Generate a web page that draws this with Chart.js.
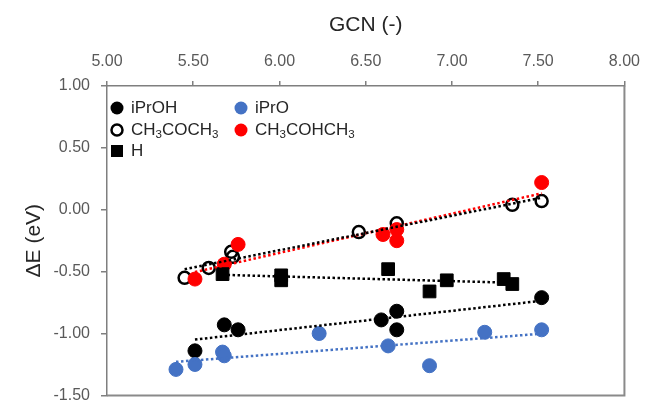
<!DOCTYPE html>
<html lang="en">
<head>
<meta charset="UTF-8" />
<title>GCN vs ΔE</title>
<style>
  html, body { margin: 0; padding: 0; background: #fff; }
  .wrap { width: 650px; height: 416px; }
</style>
</head>
<body>
<div class="wrap"><canvas class="chart"></canvas></div>
<script src="https://cdn.jsdelivr.net/npm/chart.js@4.4.0/dist/chart.umd.min.js"></script>
<script>
const seriesNames = ['iPrOH', 'iPrO', 'CH₃COCH₃', 'CH₃COHCH₃', 'H'];

const gcnIPrOH = [5.51, 5.68, 5.76, 6.59, 6.68, 6.68, 7.52];
const dEIPrOH  = [-1.14, -0.93, -0.97, -0.89, -0.82, -0.97, -0.71];

const gcnIPrO = [5.40, 5.51, 5.67, 5.68, 6.23, 6.63, 6.87, 7.19, 7.52];
const dEIPrO  = [-1.29, -1.25, -1.15, -1.18, -1.00, -1.10, -1.26, -0.99, -0.97];

const gcnAcetone = [5.45, 5.59, 5.72, 5.73, 6.46, 6.68, 7.35, 7.52];
const dEAcetone  = [-0.55, -0.47, -0.34, -0.38, -0.18, -0.11, 0.04, 0.07];

const gcnEnol = [5.51, 5.68, 5.76, 6.60, 6.68, 6.68, 7.52];
const dEEnol  = [-0.56, -0.44, -0.28, -0.20, -0.16, -0.25, 0.22];

const gcnH = [5.67, 6.01, 6.01, 6.63, 6.87, 6.97, 7.30, 7.35];
const dEH  = [-0.52, -0.53, -0.57, -0.48, -0.66, -0.57, -0.56, -0.60];

const xTicks = [5.0, 5.5, 6.0, 6.5, 7.0, 7.5, 8.0];
const yTicks = [1.0, 0.5, 0.0, -0.5, -1.0, -1.5];

const FONT = "'Liberation Sans', Arial, sans-serif";

const series = [
  { xs: gcnIPrOH, ys: dEIPrOH, color: '#000000', fill: '#000000', shape: 'circle', r: 7, bw: 1 },
  { xs: gcnIPrO, ys: dEIPrO, color: '#4472c4', fill: '#4472c4', shape: 'circle', r: 7, bw: 1 },
  { xs: gcnAcetone, ys: dEAcetone, color: '#000000', fill: 'rgba(0,0,0,0)', shape: 'circle', r: 6, bw: 2.5 },
  { xs: gcnEnol, ys: dEEnol, color: '#ff0000', fill: '#ff0000', shape: 'circle', r: 7, bw: 1 },
  { xs: gcnH, ys: dEH, color: '#000000', fill: '#000000', shape: 'rect', r: 9, bw: 1 },
];

function toPoints(xs, ys) {
  return xs.map((x, i) => ({ x, y: ys[i] }));
}

// Least-squares trendline from the lowest to the highest GCN of a series.
function trendline(xs, ys) {
  const n = xs.length;
  const mx = xs.reduce((a, b) => a + b, 0) / n;
  const my = ys.reduce((a, b) => a + b, 0) / n;
  let sxy = 0, sxx = 0;
  for (let i = 0; i < n; i++) {
    sxy += (xs[i] - mx) * (ys[i] - my);
    sxx += (xs[i] - mx) * (xs[i] - mx);
  }
  const slope = sxy / sxx;
  const icpt = my - slope * mx;
  const x0 = Math.min(...xs), x1 = Math.max(...xs);
  return [{ x: x0, y: icpt + slope * x0 }, { x: x1, y: icpt + slope * x1 }];
}

const datasets = [];
series.forEach((s, i) => {
  datasets.push({
    label: seriesNames[i],
    data: toPoints(s.xs, s.ys),
    pointStyle: s.shape,
    pointRadius: s.r,
    pointBackgroundColor: s.fill,
    pointBorderColor: s.color,
    pointBorderWidth: s.bw,
    order: 10 - i,
  });
});
series.forEach((s, i) => {
  datasets.push({
    label: seriesNames[i] + ' trend',
    data: trendline(s.xs, s.ys),
    showLine: true,
    borderColor: s.color,
    borderWidth: 2.5,
    borderDash: [2.5, 2.5],
    pointRadius: 0,
    order: 0,
  });
});

// Draw a label, rendering subscript digits smaller and lowered.
function drawRich(ctx, text, x, y, size) {
  const subs = '₀₁₂₃₄₅₆₇₈₉';
  for (const ch of text) {
    const k = subs.indexOf(ch);
    if (k >= 0) {
      ctx.font = `${size * 0.68}px ${FONT}`;
      ctx.fillText(String(k), x, y + size * 0.28);
      x += ctx.measureText(String(k)).width;
    } else {
      ctx.font = `${size}px ${FONT}`;
      ctx.fillText(ch, x, y);
      x += ctx.measureText(ch).width;
    }
  }
}

const legendCols = [117, 241];
const legendRows = [108, 130, 151];

const insideLegend = {
  id: 'insideLegend',
  afterDraw(chart) {
    const ctx = chart.ctx;
    ctx.save();
    ctx.textBaseline = 'middle';
    series.forEach((s, i) => {
      const cx = legendCols[i % 2];
      const cy = legendRows[Math.floor(i / 2)];
      ctx.fillStyle = s.fill;
      ctx.strokeStyle = s.color;
      ctx.lineWidth = s.bw;
      if (s.shape === 'rect') {
        ctx.fillRect(cx - 6, cy - 6, 12, 12);
      } else {
        ctx.beginPath();
        ctx.arc(cx, cy, s.bw > 2 ? 5.5 : 6.5, 0, Math.PI * 2);
        ctx.fill();
        if (s.bw > 2) ctx.stroke();
      }
      ctx.fillStyle = '#262626';
      drawRich(ctx, seriesNames[i], cx + 14, cy, 17);
    });
    ctx.restore();
  },
};

const frame = {
  id: 'frame',
  beforeDatasetsDraw(chart) {
    const { ctx, chartArea: a } = chart;
    ctx.save();
    ctx.strokeStyle = '#8a8a8a';
    ctx.lineWidth = 2;
    ctx.beginPath();
    ctx.moveTo(a.left, a.bottom);
    ctx.lineTo(a.right, a.bottom);
    ctx.lineTo(a.right, a.top);
    ctx.stroke();
    ctx.restore();
  },
};

new Chart(document.querySelector('.chart'), {
  type: 'scatter',
  data: { datasets },
  options: {
    responsive: true,
    maintainAspectRatio: false,
    animation: false,
    layout: { padding: { left: 0, top: 0, right: 18, bottom: 8 } },
    plugins: { legend: { display: false }, tooltip: { enabled: false } },
    scales: {
      x: {
        type: 'linear',
        position: 'top',
        min: 5,
        max: 8,
        afterBuildTicks: (s) => { s.ticks = xTicks.map((v) => ({ value: v })); },
        afterFit: (s) => { s.height = 86; },
        ticks: {
          padding: 10,
          color: '#595959',
          font: { family: FONT, size: 16 },
          callback: (v) => Number(v).toFixed(2),
        },
        grid: { drawOnChartArea: false, tickLength: 5, color: '#7f7f7f', lineWidth: 1.5 },
        border: { color: '#7f7f7f', width: 1.5 },
        title: {
          display: true,
          text: 'GCN (-)',
          color: '#262626',
          padding: { top: 13, bottom: 0 },
          font: { family: FONT, size: 21 },
        },
      },
      y: {
        type: 'linear',
        min: -1.5,
        max: 1,
        afterBuildTicks: (s) => { s.ticks = yTicks.map((v) => ({ value: v })); },
        afterFit: (s) => { s.width = 107; },
        ticks: {
          padding: 11,
          color: '#595959',
          font: { family: FONT, size: 16 },
          callback: (v) => Number(v).toFixed(2),
        },
        grid: { drawOnChartArea: false, tickLength: 6, color: '#7f7f7f', lineWidth: 1.5 },
        border: { color: '#7f7f7f', width: 1.5 },
        title: {
          display: true,
          text: 'ΔE (eV)',
          color: '#262626',
          padding: { top: 22, bottom: 0 },
          font: { family: FONT, size: 21 },
        },
      },
    },
  },
  plugins: [insideLegend, frame],
});
</script>
</body>
</html>
